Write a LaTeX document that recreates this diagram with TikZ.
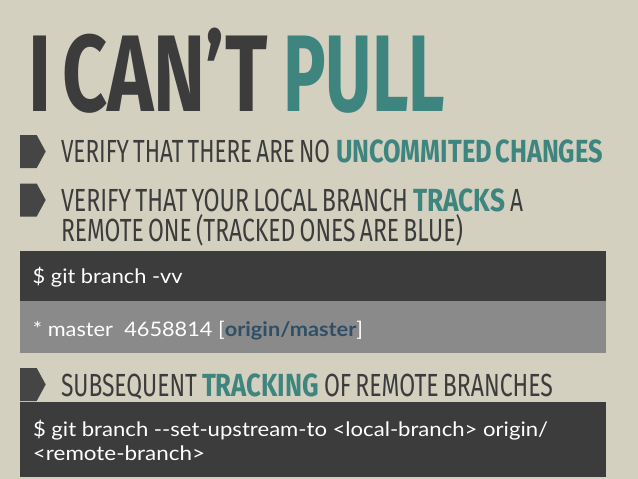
\documentclass[tikz,border=0pt]{standalone}
\usepackage{fontspec}
\usepackage{graphicx}
\newfontfamily\thinfont[WordSpace=0.7]{Fira Sans}
\newfontfamily\boldfont[WordSpace=0.7]{Fira Sans Bold}
\newfontfamily\titlebold[WordSpace=0.6]{Fira Sans Bold}
\newfontfamily\codefont{Lato}
\newfontfamily\codebold{Lato Bold}
\definecolor{bgc}{HTML}{D3D0BF}
\definecolor{darkc}{HTML}{3C3C3C}
\definecolor{tealc}{HTML}{3F857F}
\definecolor{grayc}{HTML}{8A8A8A}
\definecolor{bluec}{HTML}{2E4F66}
\definecolor{bulletc}{HTML}{454545}
\newsavebox\fitbox
\newlength\fitlen
\newlength\fitnat
\newcommand\fitw[2]{%
  \sbox\fitbox{#2}%
  \setlength\fitlen{#1}%
  \setlength\fitnat{\wd\fitbox}%
  \pgfmathsetmacro\fitfac{\fitlen/\fitnat}%
  \scalebox{\fitfac}[1]{\usebox\fitbox}}
\tikzset{
  txt/.style={anchor=base west, inner sep=0pt, outer sep=0pt},
  bulletshape/.style={fill=bulletc, draw=none},
  codebox/.style={fill=darkc, draw=none},
  outbox/.style={fill=grayc, draw=none},
  titlefont/.style={font=\titlebold\fontsize{109}{109}\selectfont},
  thin/.style={font=\thinfont\fontsize{32}{32}\selectfont, text=darkc},
  strong/.style={font=\boldfont\fontsize{32}{32}\selectfont, text=tealc},
  code/.style={font=\codefont\fontsize{20}{20}\selectfont, text=white}
}
\newcommand\bulletat[2]{% name, center y
  \fill[bulletshape] (20,#2-16.5) -- (36.7,#2-16.5) -- (45.7,#2) -- (36.7,#2+16.5) -- (20,#2+16.5) -- cycle;}
\begin{document}
\begin{tikzpicture}[x=1pt,y=-1pt]
\useasboundingbox (0,0) rectangle (638,479);
\fill[bgc] (0,0) rectangle (638,479);
% title
\node[txt, titlefont, text=darkc] (t1) at (28,111) {\fitw{240pt}{I CAN’T}};
\node[txt, titlefont, text=tealc] (t2) at (283,111) {\fitw{162pt}{PULL}};
% bullet 1
\bulletat{b1}{151.5}
\node[txt, thin] (l1a) at (61,162.7) {\fitw{269pt}{VERIFY THAT THERE ARE NO}};
\node[txt, strong] (l1b) at (336,162.7) {\fitw{267pt}{UNCOMMITED CHANGES}};
% bullet 2
\bulletat{b2}{200}
\node[txt, thin] (l2a) at (61,211) {\fitw{347pt}{VERIFY THAT YOUR LOCAL BRANCH}};
\node[txt, strong] (l2b) at (413,211) {\fitw{92pt}{TRACKS}};
\node[txt, thin] (l2c) at (510,211) {\fitw{13pt}{A}};
\node[txt, thin] (l3) at (61,241) {\fitw{402pt}{REMOTE ONE (TRACKED ONES ARE BLUE)}};
% code boxes
\fill[codebox] (20,250.5) rectangle (606,301);
\fill[outbox] (20,301) rectangle (606,352.7);
\node[txt, code] (c1) at (32.7,283.3) {\fitw{150pt}{\$ git branch {-}vv}};
\node[txt, code] (c2) at (33,336.7) {\fitw{330pt}{* master\ \ 4658814 [\textcolor{bluec}{\codebold origin/master}]}};
% bullet 3
\bulletat{b3}{384.5}
\node[txt, thin] (l4a) at (61,396) {\fitw{136pt}{SUBSEQUENT}};
\node[txt, strong] (l4b) at (202,396) {\fitw{117pt}{TRACKING}};
\node[txt, thin] (l4c) at (324,396) {\fitw{229pt}{OF REMOTE BRANCHES}};
\fill[codebox] (20,402) rectangle (606,477);
\node[txt, code] (c3) at (33,436.5) {\fitw{515pt}{\$ git branch {-}{-}set{-}upstream{-}to <local{-}branch> origin/}};
\node[txt, code] (c4) at (33,460) {\fitw{172pt}{<remote{-}branch>}};
\end{tikzpicture}
\end{document}
